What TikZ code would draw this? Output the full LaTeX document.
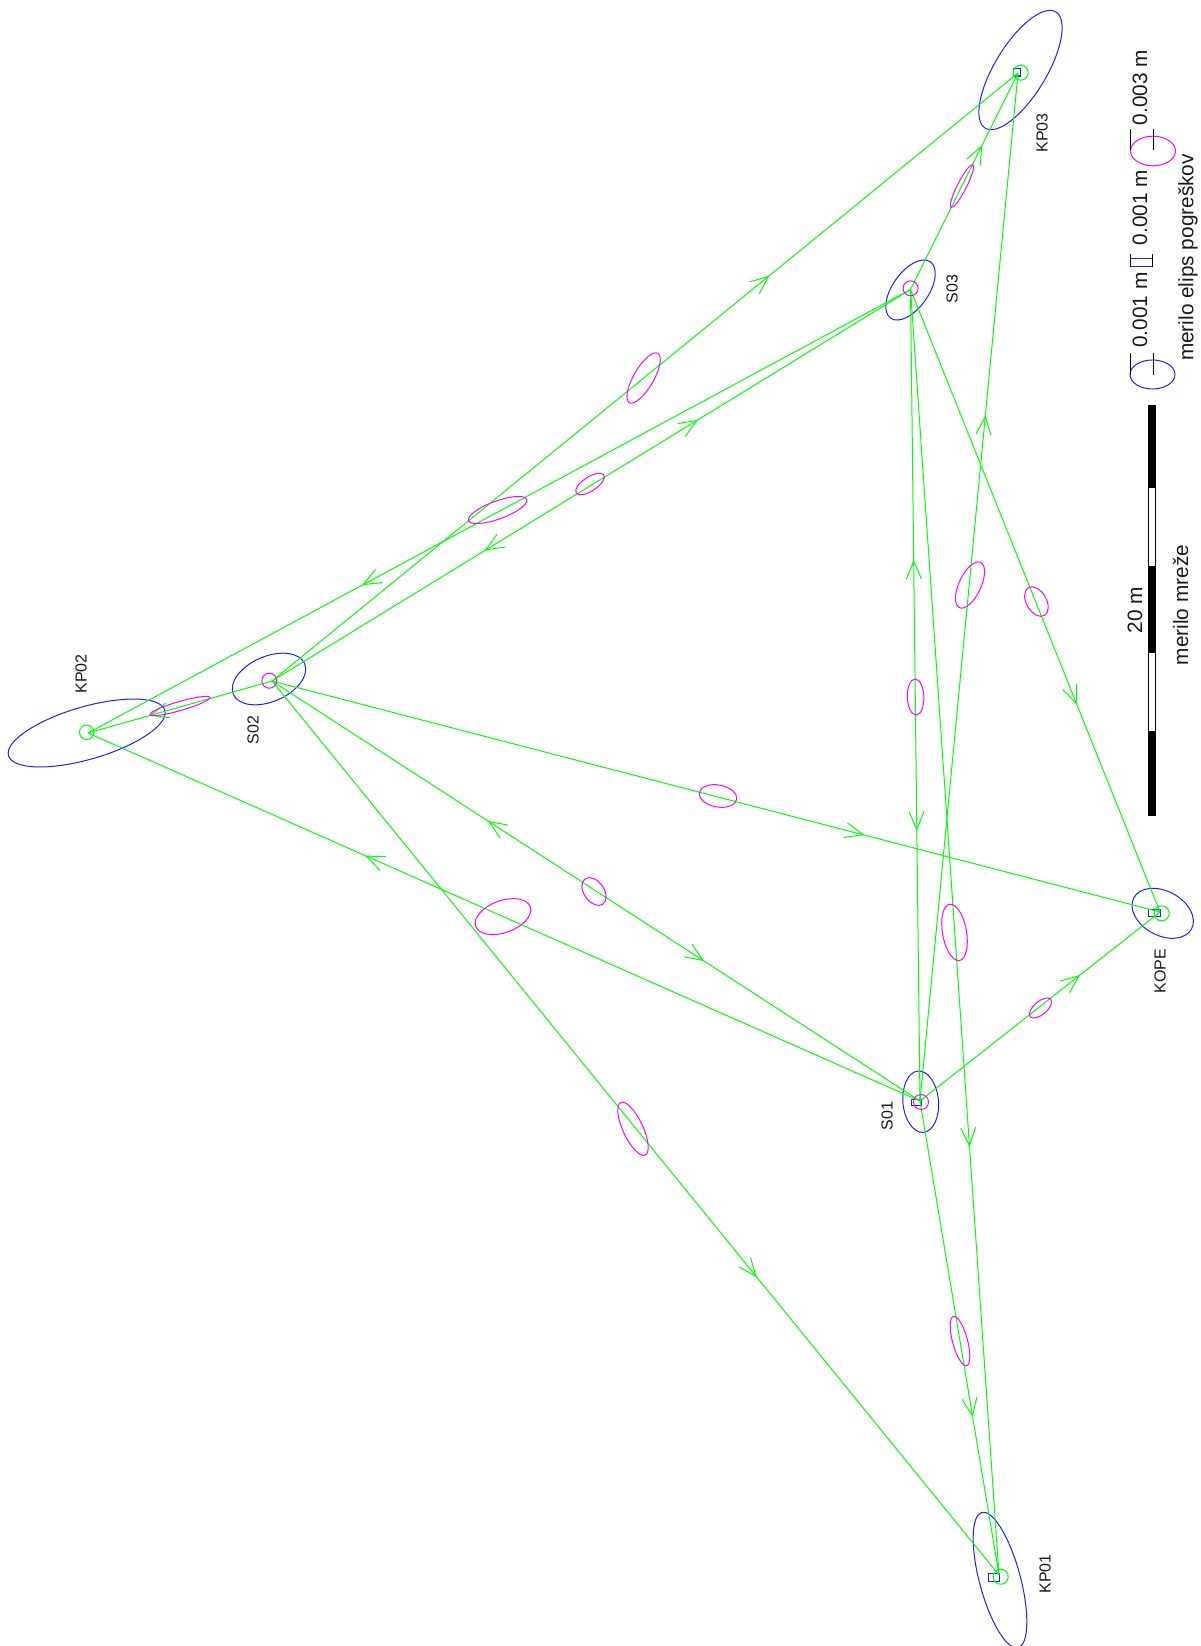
\documentclass[tikz,border=0pt]{standalone}
\usepackage{fontspec}
\setmainfont{Liberation Sans}
\usetikzlibrary{arrows.meta,decorations.markings}
\definecolor{netgreen}{RGB}{0,255,0}
\definecolor{netblue}{RGB}{30,30,255}
\definecolor{netmag}{RGB}{255,0,255}
\tikzset{
  midbarb/.style={postaction={decorate},
    decoration={markings,mark=at position 0.667 with {\arrow[netgreen,line width=1pt]{Straight Barb[length=18pt,width=15pt]}}}},
  conn/.style={draw=netgreen,line width=1pt,midbarb},
  connback/.style={midbarb},
  blueell/.style={draw=netblue,line width=1pt},
  magell/.style={draw=netmag,line width=1pt},
  greenc/.style={draw=netgreen,line width=1pt},
  rectm/.style={draw=netblue,line width=1pt},
  stlabel/.style={font=\fontsize{16}{16}\selectfont,rotate=90,inner sep=0pt,text=black!90},
  leglabel/.style={font=\fontsize{20.8}{21}\selectfont,rotate=90,inner sep=0pt,text=black!90},
  tickbar/.style={draw=black,line width=0.8pt},
  scaleb/.style={draw=black,line width=0.6pt,fill=black},
  scalew/.style={draw=black,line width=0.6pt,fill=white}
}
\newcommand{\errE}[6]{\draw[#1,rotate around={#6:(#2,#3)}] (#2,#3) ellipse [x radius=#4,y radius=#5];}
\begin{document}
\begin{tikzpicture}[x=1pt,y=-1pt]
\useasboundingbox (0,0) rectangle (1200,1646);
\clip (0,0) rectangle (1200,1646);
% stations
\coordinate (KP01) at (999,1575);
\coordinate (KP02) at (88,733);
\coordinate (KP03) at (1018,73);
\coordinate (S01) at (920,1101);
\coordinate (S02) at (272,681);
\coordinate (S03) at (910.5,289.5);
\coordinate (KOPE) at (1160,912);
% blue error ellipses at stations
\errE{blueell}{1000}{1580}{70}{20.5}{-75}
\errE{blueell}{86.7}{733}{81.4}{26.3}{16.2}
\errE{blueell}{1020.5}{70}{68}{25.8}{58.7}
\errE{blueell}{269}{679}{38.8}{22.6}{23.3}
\errE{blueell}{910.5}{290}{34.5}{18}{54.8}
\errE{blueell}{920.7}{1101.7}{30.8}{17.8}{95}
\errE{blueell}{1162.7}{913.3}{32.8}{22.2}{-28.4}
% blue rectangles
\draw[rectm] (988.3,1573.3) rectangle (999.3,1581);
\draw[rectm] (1013,69) rectangle (1020,76);
\draw[rectm] (911,1099) rectangle (921,1105);
\draw[rectm] (1148.3,909.3) rectangle (1160.7,916.5);
% connectors
\draw[conn] (S02) -- (KP02);
\draw[conn] (S03) -- (KP02);
\draw[conn] (S02) -- (S03);
\path[connback] (S03) -- (S02);
\draw[conn] (S02) -- (KP03);
\draw[conn] (S02) -- (KOPE);
\draw[conn] (S01) -- (S02);
\path[connback] (S02) -- (S01);
\draw[conn] (S02) -- (KP01);
\draw[conn] (S01) -- (KP02);
\draw[conn] (S01) -- (KOPE);
\draw[conn] (S03) -- (KOPE);
\draw[conn] (S01) -- (S03);
\path[connback] (S03) -- (S01);
\draw[conn] (S01) -- (KP03);
\draw[conn] (S03) -- (KP03);
\draw[conn] (S03) -- (KP01);
\draw[conn] (S01) -- (KP01);
% station circles
\draw[greenc] (1000.7,1576.7) circle [radius=7.5];
\draw[greenc] (86.7,732.3) circle [radius=7.2];
\draw[greenc] (1020.7,72.7) circle [radius=7.5];
\draw[greenc] (1161.7,913.3) circle [radius=7.5];
\draw[magell] (921,1102) circle [radius=7.5];
\draw[magell] (269.3,680.7) circle [radius=7.5];
\draw[magell] (910.6,288.3) circle [radius=7.5];
% magenta relative ellipses
\errE{magell}{180}{706}{31.2}{4.5}{16}
\errE{magell}{962}{186}{24}{4.5}{63}
\errE{magell}{643.6}{378}{28.5}{10}{60}
\errE{magell}{590}{484}{16.5}{7}{33}
\errE{magell}{497.7}{510}{31}{9}{20}
\errE{magell}{970}{585}{25}{11}{65}
\errE{magell}{1036.4}{601.6}{16}{10}{-60}
\errE{magell}{915.6}{697}{18}{8.3}{92}
\errE{magell}{718}{796}{19}{11}{-10}
\errE{magell}{594}{891.5}{15.5}{10}{-55}
\errE{magell}{503}{916.6}{29}{16}{20}
\errE{magell}{954.5}{932.4}{28.6}{12}{-80}
\errE{magell}{1040.5}{1008}{13.5}{6.5}{40}
\errE{magell}{633}{1128.8}{29}{10}{-65}
\errE{magell}{960}{1341}{25.5}{7.5}{-75}
% station labels
\node[stlabel] (lKP01) at (1045,1574) {KP01};
\node[stlabel] (lKP02) at (81,674) {KP02};
\node[stlabel] (lKP03) at (1042,133) {KP03};
\node[stlabel] (lS01) at (887,1116) {S01};
\node[stlabel] (lS02) at (253,730) {S02};
\node[stlabel] (lS03) at (952,289) {S03};
\node[stlabel] (lKOPE) at (1160,971) {KOPE};
% scale bar
\draw[scaleb] (1148.3,405) rectangle (1155.7,487);
\draw[scalew] (1148.3,487) rectangle (1155.7,566);
\draw[scaleb] (1148.3,566) rectangle (1155.7,652);
\draw[scalew] (1148.3,652) rectangle (1155.7,731);
\draw[scaleb] (1148.3,731) rectangle (1155.7,815.7);
\node[leglabel] (t20) at (1135,610) {20 m};
\node[leglabel] (tmm) at (1180.7,605) {merilo mreže};
% legend
\errE{blueell}{1152.5}{374.5}{22.5}{14.5}{0}
\draw[tickbar] (1130.7,353) -- (1130.7,374.5);
\draw[tickbar] (1153,353) -- (1153,374.5);
\node[leglabel] (t1) at (1140,310) {0.001 m};
\draw[rectm] (1130,258) rectangle (1152.7,266);
\draw[tickbar] (1130,254) -- (1130,267);
\draw[tickbar] (1152.7,254) -- (1152.7,267);
\node[leglabel] (t2) at (1140,207.5) {0.001 m};
\errE{magell}{1153}{151}{22.5}{14.8}{0}
\draw[tickbar] (1130.7,129) -- (1130.7,150);
\draw[tickbar] (1153,129) -- (1153,150);
\node[leglabel] (t3) at (1140,87.5) {0.003 m};
\node[leglabel] (tme) at (1188,257.5) {merilo elips pogreškov};
\end{tikzpicture}
\end{document}
